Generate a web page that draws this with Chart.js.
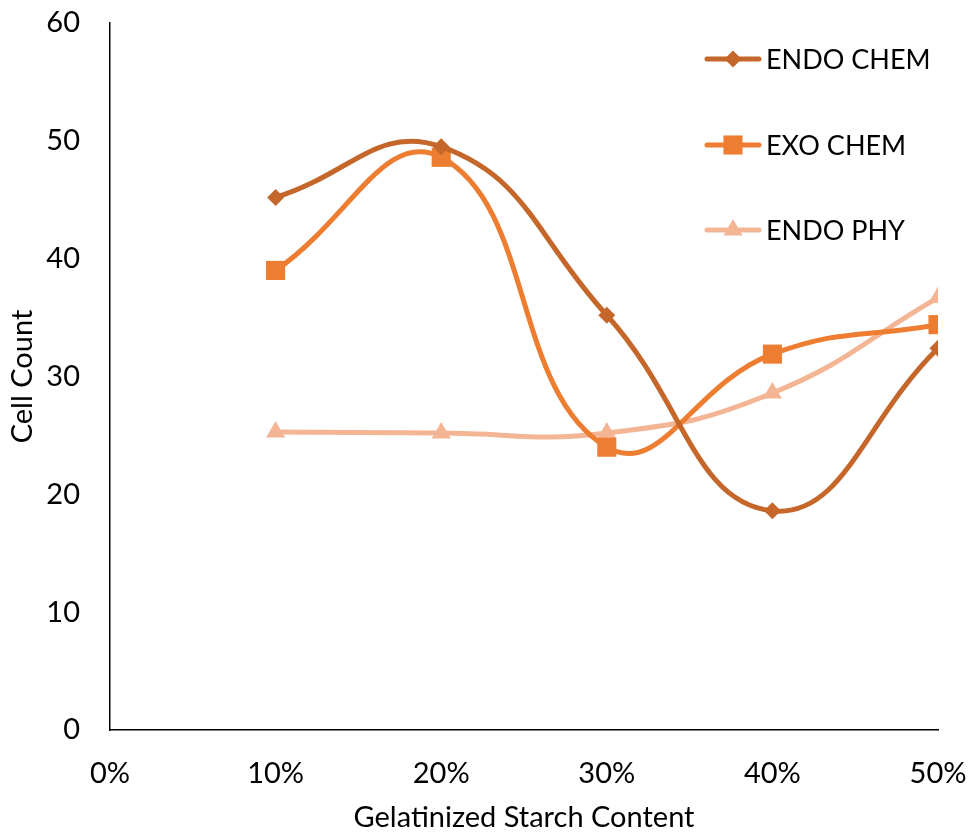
<!DOCTYPE html>
<html>
<head>
<meta charset="utf-8">
<script src="https://cdn.jsdelivr.net/npm/chart.js@4.4.1/dist/chart.umd.min.js"></script>
<style>
  html, body { margin: 0; padding: 0; background: #fff; }
  #wrap { width: 971px; height: 833px; }
</style>
</head>
<body>
<div id="wrap"><canvas id="chart"></canvas></div>
<script>
// starch content (%) and cell counts per treatment
const starchPct = [10, 20, 30, 40, 50];
const endoChem = [45.2, 49.5, 35.2, 18.6, 32.4];
const exoChem = [39.0, 48.6, 24.0, 31.9, 34.4];
const endoPhy = [25.3, 25.2, 25.2, 28.6, 36.7];
const seriesNames = ['ENDO CHEM', 'EXO CHEM', 'ENDO PHY'];

const textFont = "Lato, 'Open Sans', sans-serif";
const textSize = 29;

function toPoints(values) {
    return starchPct.map((x, i) => ({ x: x, y: values[i] }));
}

function makeSeries(label, values, color, shape, radius) {
    return {
        label: label,
        data: toPoints(values),
        borderColor: color,
        backgroundColor: color,
        borderWidth: 5,
        pointStyle: shape,
        pointRadius: radius,
        pointHoverRadius: radius,
        pointBorderWidth: 0,
        tension: 0.45,
        fill: false,
    };
}

// legend drawn inside the plot, stacked on the right
const sideLegend = {
    id: 'sideLegend',
    afterDraw(chart) {
        const ctx = chart.ctx;
        const rowY = [59, 145, 230];
        chart.data.datasets.forEach((ds, i) => {
            const y = rowY[i];
            ctx.save();
            ctx.strokeStyle = ds.borderColor;
            ctx.lineWidth = 5;
            ctx.lineCap = 'round';
            ctx.beginPath();
            ctx.moveTo(707, y);
            ctx.lineTo(759, y);
            ctx.stroke();
            ctx.fillStyle = ds.borderColor;
            Chart.helpers.drawPoint(ctx, {
                pointStyle: ds.pointStyle,
                radius: ds.pointRadius,
                borderWidth: 0,
                rotation: 0,
            }, 733, y);
            ctx.fillStyle = '#000';
            ctx.font = '27px ' + textFont;
            ctx.textBaseline = 'middle';
            ctx.fillText(ds.label, 766, y + 1);
            ctx.restore();
        });
    }
};

new Chart('chart', {
    type: 'line',
    data: {
        datasets: [
            makeSeries(seriesNames[0], endoChem, '#C5662A', 'rectRot', 8.5),
            makeSeries(seriesNames[1], exoChem, '#ED7D31', 'rect', 13.5),
            makeSeries(seriesNames[2], endoPhy, '#F4B595', 'triangle', 11),
        ],
    },
    options: {
        responsive: true,
        maintainAspectRatio: false,
        animation: false,
        layout: { padding: { top: 23, right: 33, left: 0, bottom: 0 } },
        plugins: {
            legend: { display: false },
            tooltip: { enabled: false },
        },
        scales: {
            x: {
                type: 'linear',
                min: 0,
                max: 50,
                grid: { display: false, drawTicks: false },
                border: { color: '#000', width: 1.5 },
                ticks: {
                    stepSize: 10,
                    padding: 26,
                    color: '#000',
                    font: { family: textFont, size: textSize },
                    maxRotation: 0,
                    callback: v => v + '%',
                },
                title: {
                    display: true,
                    text: 'Gelatinized Starch Content',
                    color: '#000',
                    font: { family: textFont, size: textSize, lineHeight: 1.05 },
                    padding: { top: 12, bottom: 0 },
                },
                afterFit: s => {
                    s.height = 103;
                    s.paddingLeft = 0;
                    s.paddingRight = 0;
                },
            },
            y: {
                min: 0,
                max: 60,
                grid: { display: false, drawTicks: false },
                border: { color: '#000', width: 1.5 },
                ticks: {
                    stepSize: 10,
                    padding: 30,
                    color: '#000',
                    font: { family: textFont, size: textSize },
                },
                title: {
                    display: true,
                    text: 'Cell Count',
                    color: '#000',
                    font: { family: textFont, size: textSize },
                    padding: { top: 5, bottom: 0 },
                },
                afterFit: s => {
                    s.width = 110;
                    s.paddingTop = 0;
                    s.paddingBottom = 0;
                },
            },
        },
    },
    plugins: [sideLegend],
});
</script>
</body>
</html>
